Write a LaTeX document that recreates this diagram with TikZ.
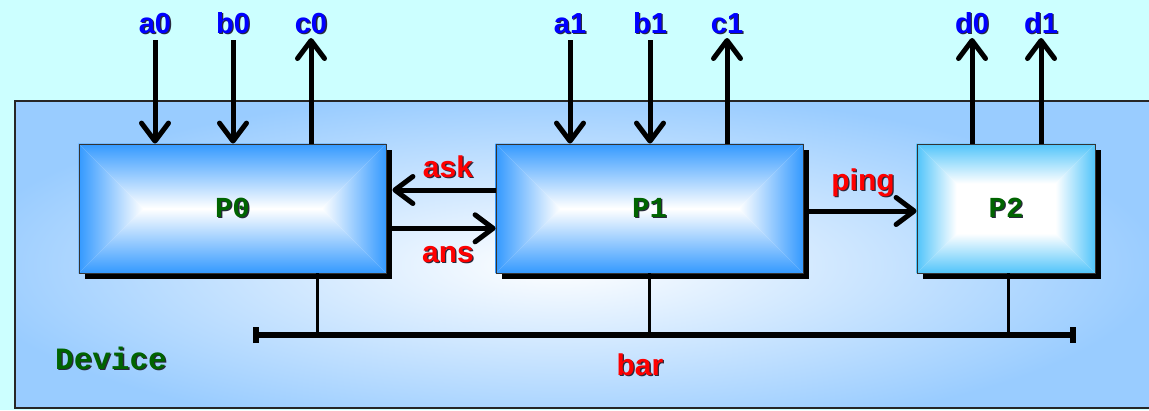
\documentclass[tikz,border=0pt]{standalone}
\usepackage{fontspec}
\setmainfont{Liberation Sans}
\newfontfamily\monob{Liberation Mono}
\usetikzlibrary{arrows.meta,calc}
\definecolor{bgcyan}{RGB}{204,255,255}
\definecolor{devblue}{RGB}{153,204,255}
\definecolor{pblue}{RGB}{51,153,255}
\definecolor{pcyan}{RGB}{80,196,250}
\definecolor{lblue}{RGB}{0,0,255}
\definecolor{lred}{RGB}{255,0,0}
\definecolor{lgreen}{RGB}{0,100,0}
\definecolor{tshadow}{RGB}{40,40,60}
\pgfdeclarelayer{bg}
\pgfdeclarelayer{mid}
\pgfsetlayers{bg,mid,main}
\newcommand\tsh[1]{\makebox[0pt][l]{\kern1.3pt\raisebox{-1.3pt}{\textcolor{tshadow}{#1}}}#1}
\newcommand\gradfill[3]{%
  \fill[black] ($(#1.north west)+(6,6)$) rectangle ($(#1.south east)+(6,6)$);
  \fill[white] (#1.north west) rectangle (#1.south east);
  \shade[top color=#2,bottom color=white] (#1.north west) -- (#1.north east) -- ($(#1.north east)+(-#3,#3)$) -- ($(#1.north west)+(#3,#3)$) -- cycle;
  \shade[bottom color=#2,top color=white] (#1.south west) -- (#1.south east) -- ($(#1.south east)+(-#3,-#3)$) -- ($(#1.south west)+(#3,-#3)$) -- cycle;
  \shade[left color=#2,right color=white] (#1.north west) -- (#1.south west) -- ($(#1.south west)+(#3,-#3)$) -- ($(#1.north west)+(#3,#3)$) -- cycle;
  \shade[right color=#2,left color=white] (#1.north east) -- (#1.south east) -- ($(#1.south east)+(-#3,-#3)$) -- ($(#1.north east)+(-#3,#3)$) -- cycle;
}
\begin{document}
\begin{tikzpicture}[x=1pt,y=-1pt,
  pbox/.style={draw=black!80, line width=0.8pt, minimum width=307pt, minimum height=129pt, inner sep=0pt, font=\monob\bfseries\fontsize{29}{29}\selectfont, text=lgreen},
  sig/.style={font=\bfseries\fontsize{29}{29}\selectfont, text=lblue, anchor=base, inner sep=0pt},
  msg/.style={font=\bfseries\fontsize{30}{30}\selectfont, text=lred, anchor=base, inner sep=0pt},
  bigarrow/.style={line width=5pt, -{Straight Barb[length=18pt,width=27pt,round]}},
  tap/.style={line width=3pt},
  bus/.style={line width=6pt, {Bar[width=16pt]}-{Bar[width=16pt]}}
]
\useasboundingbox (0,0) rectangle (1149,410);
\begin{pgfonlayer}{bg}
  \fill[bgcyan] (0,0) rectangle (1149,410);
  \fill[devblue] (15,101) rectangle (1155,408);
  \begin{scope}
    \clip (15,101) rectangle (1155,408);
    \shade[inner color=white, outer color=devblue] (560,265) ellipse [x radius=600, y radius=175];
  \end{scope}
  \draw[line width=1.5pt, black!85] (15,101) rectangle (1155,408);
\end{pgfonlayer}

\node[pbox] (P0) at (232.5,208.5) {\tsh{P0}};
\node[pbox] (P1) at (649.5,208.5) {\tsh{P1}};
\node[pbox, minimum width=178pt] (P2) at (1006,208.5) {\tsh{P2}};

\begin{pgfonlayer}{mid}
  \gradfill{P0}{pblue}{64.5}
  \gradfill{P1}{pblue}{64.5}
  \gradfill{P2}{pcyan}{40}
\end{pgfonlayer}

\node[sig] (a0) at (155,33) {\tsh{a0}};
\node[sig] (b0) at (233,33) {\tsh{b0}};
\node[sig] (c0) at (311,33) {\tsh{c0}};
\node[sig] (a1) at (570,33) {\tsh{a1}};
\node[sig] (b1) at (650,33) {\tsh{b1}};
\node[sig] (c1) at (727,33) {\tsh{c1}};
\node[sig] (d0) at (972,33) {\tsh{d0}};
\node[sig] (d1) at (1041,33) {\tsh{d1}};

\draw[bigarrow] ([yshift=-7pt]a0.base) -- (a0.base |- P0.north);
\draw[bigarrow] ([yshift=-7pt]b0.base) -- (b0.base |- P0.north);
\draw[bigarrow] (c0.base |- P0.north) -- ([yshift=-5pt]c0.base);
\draw[bigarrow] ([yshift=-7pt]a1.base) -- (a1.base |- P1.north);
\draw[bigarrow] ([yshift=-7pt]b1.base) -- (b1.base |- P1.north);
\draw[bigarrow] (c1.base |- P1.north) -- ([yshift=-5pt]c1.base);
\draw[bigarrow] (d0.base |- P2.north) -- ([yshift=-5pt]d0.base);
\draw[bigarrow] (d1.base |- P2.north) -- ([yshift=-5pt]d1.base);

\node[msg] (ask) at (448,177) {\tsh{ask}};
\node[msg] (ans) at (448,262) {\tsh{ans}};
\node[msg] (ping) at (863,190) {\tsh{ping}};
\node[msg] (bar) at (640,375) {\tsh{bar}};
\node[font=\monob\bfseries\fontsize{31}{31}\selectfont, text=lgreen, anchor=base west, inner sep=0pt] (dev) at (55,369) {\tsh{Device}};

\draw[bigarrow] ([yshift=18.5pt]P1.west) -- ([yshift=18.5pt,xshift=6pt]P0.east);
\draw[bigarrow] ([yshift=-19.8pt,xshift=6pt]P0.east) -- ([yshift=-19.8pt]P1.west);
\draw[bigarrow] ([yshift=-2.5pt,xshift=6pt]P1.east) -- ([yshift=-2.5pt]P2.west);

\coordinate (busL) at (253,335);
\coordinate (busR) at (1076,335);
\coordinate (j0) at (317,335);
\coordinate (j2) at (1008,335);
\draw[bus] (busL) -- (busR);
\draw[tap] (j0 |- P0.south) -- (j0);
\draw[tap] (P1.south) -- (P1.south |- busL);
\draw[tap] (j2 |- P2.south) -- (j2);
\end{tikzpicture}
\end{document}
